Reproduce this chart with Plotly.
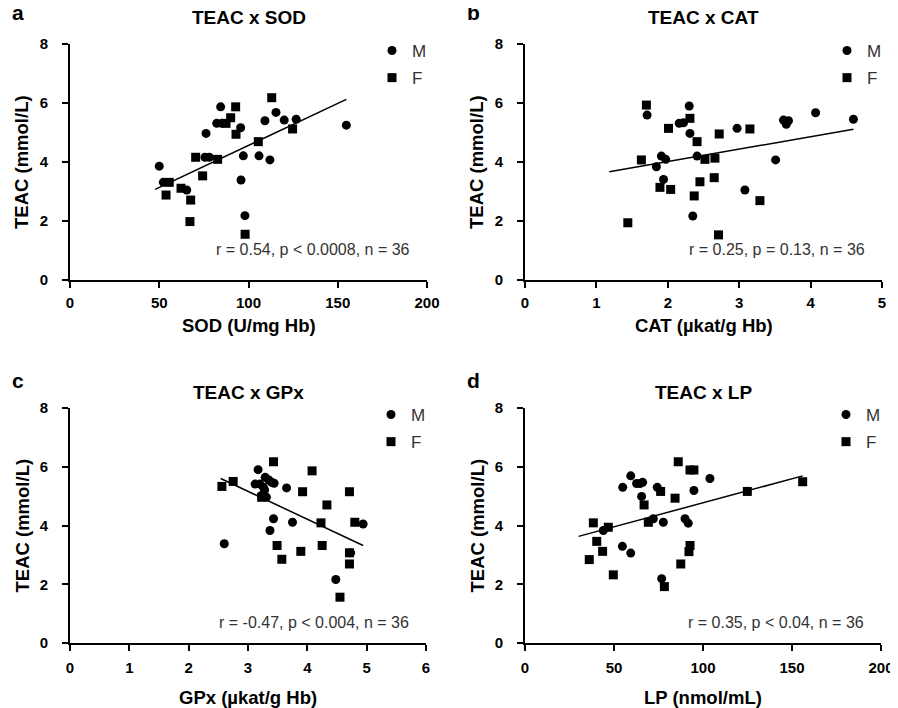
import plotly.graph_objects as go
import numpy as np

PAGE_W, PAGE_H = 898, 708
OFF = 8                      # default body margin of the html page
W, H = PAGE_W - OFF, PAGE_H - OFF
FONT = "Liberation Sans"

# ---------------- data ----------------
# Panel a: TEAC x SOD
sod_m = [50, 52.3, 65.4, 75.6, 76.2, 78, 82.2, 84.4, 85, 95.6, 95.8, 97.1, 98,
         105.9, 109.2, 112, 115.4, 120, 126.7, 154.8]
teac_sod_m = [3.86, 3.31, 3.05, 4.16, 4.97, 4.16, 5.31, 5.87, 5.31, 5.16, 3.39, 4.21, 2.18,
              4.21, 5.40, 4.07, 5.68, 5.42, 5.45, 5.25]
sod_f = [53.8, 55.6, 62.2, 67.2, 67.6, 70.4, 74.3, 82.7, 87.4, 90, 92.8, 93, 98.1,
         105.5, 113, 124.7]
teac_sod_f = [2.88, 3.31, 3.11, 1.98, 2.71, 4.16, 3.53, 4.09, 5.31, 5.50, 5.87, 4.94, 1.55,
              4.69, 6.18, 5.12]
fit_sod = dict(slope=0.02848, intercept=1.712, x0=47.7, x1=154.8)

# Panel b: TEAC x CAT
cat_m = [1.71, 1.84, 1.91, 1.94, 1.97, 2.16, 2.22, 2.30, 2.31, 2.35, 2.41, 2.97, 3.08,
         3.51, 3.62, 3.66, 3.69, 4.07, 4.60]
teac_cat_m = [5.59, 3.84, 4.20, 3.41, 4.09, 5.31, 5.33, 5.90, 4.97, 2.17, 4.20, 5.14, 3.05,
              4.07, 5.42, 5.28, 5.40, 5.67, 5.45]
cat_f = [1.44, 1.63, 1.70, 1.89, 2.01, 2.04, 2.31, 2.37, 2.41, 2.45, 2.52, 2.65, 2.66,
         2.71, 2.72, 3.15, 3.29]
teac_cat_f = [1.94, 4.07, 5.93, 3.14, 5.14, 3.07, 5.48, 2.85, 4.69, 3.33, 4.09, 3.47, 4.13,
              1.53, 4.95, 5.12, 2.69]
fit_cat = dict(slope=0.421, intercept=3.173, x0=1.18, x1=4.60)

# Panel c: TEAC x GPx
gpx_m = [2.60, 3.12, 3.17, 3.20, 3.23, 3.26, 3.28, 3.29, 3.31, 3.35, 3.37, 3.40, 3.43,
         3.44, 3.65, 3.75, 4.48, 4.73, 4.94]
teac_gpx_m = [3.38, 5.41, 5.90, 5.41, 5.02, 5.30, 5.21, 5.64, 4.96, 5.55, 3.83, 5.47, 4.23,
              5.44, 5.28, 4.11, 2.16, 3.07, 4.05]
gpx_f = [2.56, 2.75, 3.23, 3.43, 3.49, 3.57, 3.89, 3.92, 4.08, 4.23, 4.25, 4.33, 4.55,
         4.71, 4.71, 4.71, 4.80]
teac_gpx_f = [5.33, 5.50, 4.96, 6.17, 3.32, 2.85, 3.12, 5.15, 5.86, 4.09, 3.32, 4.70, 1.56,
              5.15, 3.07, 2.69, 4.11]
fit_gpx = dict(slope=-0.95, intercept=8.013, x0=2.54, x1=4.94)

# Panel d: TEAC x LP
lp_m = [44, 54.7, 54.9, 59.4, 59.4, 62.7, 64.6, 66.1, 65.5, 72.1, 74.3, 76.8, 77.7,
        89.9, 91.7, 94.9, 103.9]
teac_lp_m = [3.83, 3.29, 5.30, 5.69, 3.06, 5.43, 5.43, 5.47, 4.99, 4.23, 5.30, 2.19, 4.11,
             4.23, 4.08, 5.19, 5.60]
lp_f = [36.1, 38.4, 40.3, 43.6, 46.8, 49.6, 66.9, 69.3, 76.2, 78.3, 84.3, 86.1, 87.5,
        92.1, 92.7, 92.7, 94.9, 124.9, 156]
teac_lp_f = [2.84, 4.09, 3.46, 3.12, 3.94, 2.32, 4.70, 4.11, 5.16, 1.92, 4.93, 6.17, 2.69,
             3.11, 3.32, 5.89, 5.89, 5.16, 5.49]
fit_lp = dict(slope=0.01636, intercept=3.137, x0=30.1, x1=156)

y_ticks = [0, 2, 4, 6, 8]
panel_letters = ["a", "b", "c", "d"]
panel_titles = ["TEAC x SOD", "TEAC x CAT", "TEAC x GPx", "TEAC x LP"]
x_titles = ["SOD (U/mg Hb)", "CAT (\u00b5kat/g Hb)", "GPx (\u00b5kat/g Hb)", "LP (nmol/mL)"]
y_title = "TEAC (mmol/L)"
stats = ["r = 0.54, p < 0.0008, n = 36", "r = 0.25, p = 0.13, n = 36",
         "r = -0.47, p < 0.004, n = 36", "r = 0.35, p < 0.04, n = 36"]
x_ranges = [[0, 200], [0, 5], [0, 6], [0, 200]]
x_ticks = [[0, 50, 100, 150, 200], [0, 1, 2, 3, 4, 5], [0, 1, 2, 3, 4, 5, 6],
           [0, 50, 100, 150, 200]]

series = [
    (sod_m, teac_sod_m, sod_f, teac_sod_f, fit_sod),
    (cat_m, teac_cat_m, cat_f, teac_cat_f, fit_cat),
    (gpx_m, teac_gpx_m, gpx_f, teac_gpx_f, fit_gpx),
    (lp_m, teac_lp_m, lp_f, teac_lp_f, fit_lp),
]

# ---------------- layout geometry (page pixels) ----------------
x_dom_px = [(70, 427), (525, 882), (70, 426), (525, 881)]
y_dom_px = [(44, 280), (44, 280), (408, 643), (408, 643)]


def px(x):
    return (x - OFF) / W


def py(y):
    return 1 - (y - OFF) / H


fig = go.Figure()
layout = dict(
    template="none",
    width=W, height=H, margin=dict(l=0, r=0, t=0, b=0, autoexpand=False),
    paper_bgcolor="white", plot_bgcolor="white",
    font=dict(family=FONT, color="black"),
    showlegend=True,
)
annotations = []

for i in range(4):
    xm, ym, xf, yf, fit = series[i]
    sfx = "" if i == 0 else str(i + 1)
    xa, ya = "x" + sfx, "y" + sfx
    leg = "legend" + sfx
    fig.add_trace(go.Scatter(
        x=xm, y=ym, mode="markers", name="M", xaxis=xa, yaxis=ya, legend=leg,
        legendgroup="M" + sfx,
        marker=dict(symbol="circle", size=9, color="black")))
    fig.add_trace(go.Scatter(
        x=xf, y=yf, mode="markers", name="F", xaxis=xa, yaxis=ya, legend=leg,
        legendgroup="F" + sfx,
        marker=dict(symbol="square", size=9, color="black")))
    fx = np.array([fit["x0"], fit["x1"]])
    fig.add_trace(go.Scatter(
        x=fx, y=fit["slope"] * fx + fit["intercept"], mode="lines",
        xaxis=xa, yaxis=ya, showlegend=False,
        line=dict(color="black", width=1.5)))

    (x0, x1), (yt, yb) = x_dom_px[i], y_dom_px[i]
    axis_common = dict(
        automargin=False,
        showline=True, linecolor="black", linewidth=2, mirror=False,
        ticks="outside", ticklen=6, tickwidth=2, tickcolor="black",
        showgrid=False, zeroline=False, fixedrange=True,
        tickfont=dict(family=FONT, size=15, color="black", weight="bold"),
    )
    layout["xaxis" + sfx] = dict(
        domain=[px(x0), px(x1)], range=x_ranges[i], tickvals=x_ticks[i],
        anchor=ya, ticklabelstandoff=2 if i < 2 else 4, **axis_common)
    layout["yaxis" + sfx] = dict(
        domain=[py(yb), py(yt)], range=[0, 8], tickvals=y_ticks,
        anchor=xa, ticklabelstandoff=11, **axis_common)

    layout[leg] = dict(
        x=px(x1 - 55), y=py(yt - 11), xanchor="left", yanchor="top",
        bgcolor="rgba(0,0,0,0)", borderwidth=0,
        traceorder="grouped", tracegroupgap=2,
        font=dict(family=FONT, size=17, color="#333333"),
        itemclick=False, itemdoubleclick=False,
    )

    cx = (x0 + x1) / 2
    # panel letter (anchored at its bottom so the glyph sits on the reference baseline)
    annotations.append(dict(
        text=panel_letters[i], x=px(x0 - 52), y=py(yt - 18 if i < 2 else yt - 14),
        xref="paper", yref="paper", xanchor="center", yanchor="bottom",
        showarrow=False, font=dict(family=FONT, size=21, color="black", weight="bold")))
    # panel title
    annotations.append(dict(
        text=panel_titles[i], x=px(cx), y=py(yt - 26 if i < 2 else yt - 16),
        xref="paper", yref="paper", xanchor="center", yanchor="middle",
        showarrow=False, font=dict(family=FONT, size=19, color="black", weight="bold")))
    # x-axis title
    annotations.append(dict(
        text=x_titles[i], x=px(cx), y=py(yb + (45 if i < 2 else 54)),
        xref="paper", yref="paper", xanchor="center", yanchor="middle",
        showarrow=False, font=dict(family=FONT, size=18.5, color="black", weight="bold")))
    # y-axis title
    annotations.append(dict(
        text=y_title, x=px(x0 - 48), y=py((yt + yb) / 2), textangle=-90,
        xref="paper", yref="paper", xanchor="center", yanchor="middle",
        showarrow=False, font=dict(family=FONT, size=18.5, color="black", weight="bold")))
    # statistics text
    annotations.append(dict(
        text=stats[i], x=px(x1 - 15), y=py(yb - 30 if i < 2 else yb - 21),
        xref="paper", yref="paper", xanchor="right", yanchor="middle",
        showarrow=False, font=dict(family=FONT, size=16, color="#333333")))

layout["annotations"] = annotations
fig.update_layout(**layout)
fig.write_html("out.html")
